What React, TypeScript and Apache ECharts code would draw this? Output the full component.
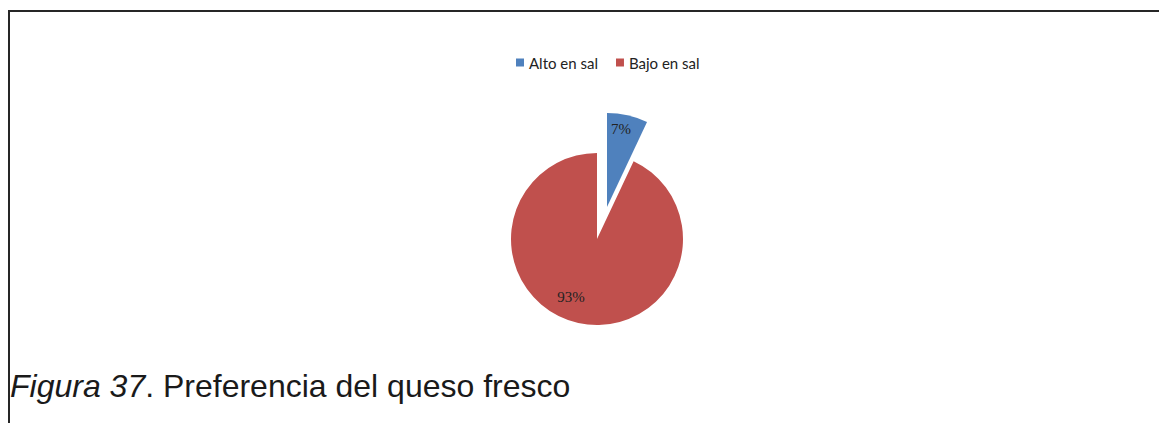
import React, { useEffect, useRef } from "react";
import * as echarts from "echarts";

const categories = ["Alto en sal", "Bajo en sal"];
const values = [7, 93];
const sliceColors = ["#4F81BD", "#C0504D"];
const captionItalic = "Figura 37";
const captionRest = ". Preferencia del queso fresco";

export default function App() {
  const ref = useRef<HTMLDivElement>(null);

  useEffect(() => {
    if (!ref.current) return;
    const chart = echarts.init(ref.current, undefined, { renderer: "svg" });

    const makeData = (visibleIndex: number) =>
      categories.map((name, i) => ({
        name,
        value: values[i],
        itemStyle: {
          color: i === visibleIndex ? sliceColors[i] : "rgba(0,0,0,0)",
          borderWidth: 0,
        },
        label: { show: i === visibleIndex },
      }));

    const labelStyle = {
      position: "inside" as const,
      formatter: "{d}%",
      fontFamily: "Liberation Serif",
      fontSize: 15,
      color: "#222222",
    };

    chart.setOption({
      animation: false,
      legend: {
        left: 511,
        top: 50,
        icon: "rect",
        itemWidth: 8,
        itemHeight: 8,
        itemGap: 18,
        selectedMode: false,
        textStyle: { fontFamily: "Lato", fontSize: 15, color: "#222222" },
        data: categories.map((name, i) => ({ name, itemStyle: { color: sliceColors[i] } })),
      },
      series: [
        {
          type: "pie",
          name: "alto",
          center: [607, 207],
          radius: 94,
          startAngle: 90,
          clockwise: true,
          silent: true,
          percentPrecision: 0,
          label: labelStyle,
          labelLine: { show: false },
          emphasis: { disabled: true },
          labelLayout: (p: any) => (p.dataIndex === 0 ? { dx: 3, dy: -29 } : {}),
          data: makeData(0),
        },
        {
          type: "pie",
          name: "bajo",
          center: [597, 239],
          radius: 86,
          startAngle: 90,
          clockwise: true,
          silent: true,
          percentPrecision: 0,
          label: labelStyle,
          labelLine: { show: false },
          emphasis: { disabled: true },
          labelLayout: (p: any) => (p.dataIndex === 1 ? { dx: -16, dy: 13 } : {}),
          data: makeData(1),
        },
      ],
      graphic: [
        {
          type: "text",
          left: 10,
          top: 370,
          style: {
            text: `{i|${captionItalic}}{n|${captionRest}}`,
            rich: {
              i: { fontFamily: "Liberation Sans", fontSize: 32, fontStyle: "italic", fill: "#1a1a1a" },
              n: { fontFamily: "Liberation Sans", fontSize: 32, fill: "#1a1a1a" },
            },
          },
        },
      ],
    });

    return () => chart.dispose();
  }, []);

  return (
    <div style={{ position: "fixed", left: 0, top: 0, width: 1159, height: 423, background: "#fff" }}>
      <div
        style={{
          position: "absolute",
          left: 8,
          top: 10,
          width: 1151,
          height: 413,
          borderTop: "2px solid #262626",
          borderLeft: "2px solid #262626",
          boxSizing: "border-box",
        }}
      />
      <div ref={ref} style={{ position: "absolute", left: 0, top: 0, width: 1159, height: 423 }} />
    </div>
  );
}
